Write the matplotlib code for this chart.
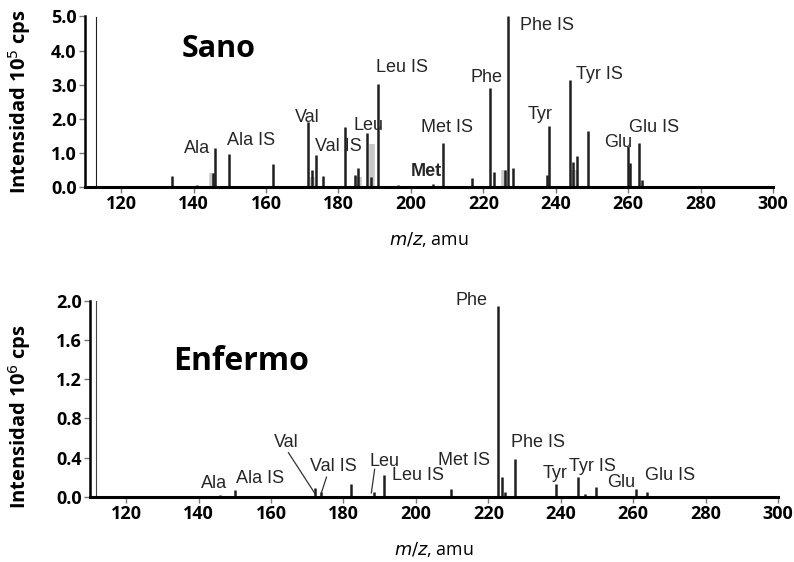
import matplotlib
matplotlib.use("Agg")
import matplotlib.pyplot as plt

# ---- Data: healthy ("Sano"), intensities in 1e5 cps ----
sano_mz = [134.1, 141, 145.4, 146.0, 149.8, 162.0, 171.6, 172.6, 173.8, 175.8, 181.8, 184.6,
           185.4, 187.9, 189.0, 191.0, 196.5, 206.1, 208.9, 216.9, 221.9, 223.0, 226.0,
           226.8, 228.2, 237.6, 238.2, 244.0, 244.8, 245.9, 248.9, 260.0, 260.6, 263.0, 263.8]
sano_int = [0.32, 0.05, 0.4, 1.15, 0.98, 0.68, 1.9, 0.5, 0.95, 0.32, 1.75, 0.35,
            0.55, 1.6, 0.3, 3.02, 0.05, 0.1, 1.3, 0.28, 2.9, 0.45, 0.5,
            5.0, 0.55, 0.35, 1.8, 3.15, 0.75, 0.9, 1.65, 1.2, 0.7, 1.3, 0.2]
sano_shade_mz = [145.2, 172.8, 185.8, 189.3, 225.8, 245.0]
sano_shade_int = [0.4, 0.3, 0.3, 1.25, 0.5, 0.5]

sano_labels = ["Ala", "Ala IS", "Val", "Val IS", "Leu", "Leu IS", "Met", "Met IS",
               "Phe", "Phe IS", "Tyr", "Tyr IS", "Glu", "Glu IS"]
sano_lab_x = [141.0, 155.9, 171.4, 179.9, 188.2, 197.6, 204.2, 210.0,
              220.8, 237.6, 235.7, 252.2, 257.2, 267.2]
sano_lab_y = [1.14, 1.37, 2.05, 1.20, 1.81, 3.51, 0.47, 1.75,
              3.22, 4.74, 2.13, 3.30, 1.32, 1.75]

# ---- Data: diseased ("Enfermo"), intensities in 1e6 cps ----
enf_mz = [146.0, 150.1, 172.0, 173.9, 182.2, 188.3, 191.3, 209.6, 222.6, 223.7, 224.5, 227.5,
          238.6, 244.7, 246.6, 249.7, 260.7, 263.8]
enf_int = [0.02, 0.07, 0.09, 0.05, 0.13, 0.05, 0.22, 0.08, 1.95, 0.2, 0.05, 0.39,
           0.13, 0.2, 0.03, 0.1, 0.08, 0.05]

enf_labels = ["Ala", "Ala IS", "Val", "Val IS", "Leu", "Leu IS", "Met IS",
              "Phe", "Phe IS", "Tyr", "Tyr IS", "Glu", "Glu IS"]
enf_lab_x = [144.3, 157.0, 164.2, 177.2, 191.3, 200.5, 213.4,
             215.4, 233.6, 238.3, 248.8, 256.6, 270.1]
enf_lab_y = [0.14, 0.19, 0.55, 0.31, 0.36, 0.22, 0.37,
             2.00, 0.55, 0.24, 0.31, 0.15, 0.22]

# annotation leader lines (label point -> peak point) for diseased panel
enf_lead_from = [(164.8, 0.45), (175.3, 0.20), (188.6, 0.28)]
enf_lead_to = [(172.0, 0.04), (173.9, 0.04), (187.7, 0.04)]

xticks = [120, 140, 160, 180, 200, 220, 240, 260, 280, 300]
sano_yticks = [0.0, 1.0, 2.0, 3.0, 4.0, 5.0]
enf_yticks = [0.0, 0.4, 0.8, 1.2, 1.6, 2.0]

tick_font = dict(family="Open Sans", weight="bold", size=13)
lab_font = dict(family="Liberation Sans", size=13, color="#262626")

fig = plt.figure(figsize=(7.94, 5.62), dpi=100)
ax1 = fig.add_axes([85 / 794, 0.667, 688 / 794, 0.305])
ax2 = fig.add_axes([90 / 794, 0.116, 688 / 794, 0.349])

def style(ax, yticks, ymax):
    ax.set_xlim(110, 300)
    ax.set_ylim(0, ymax)
    for s in ["top", "right"]:
        ax.spines[s].set_visible(False)
    ax.spines["bottom"].set_linewidth(2.2)
    ax.spines["left"].set_linewidth(1.8)
    ax.set_xticks(xticks)
    ax.set_yticks(yticks)
    ax.set_xticklabels([str(t) for t in xticks], fontdict=tick_font)
    ax.set_yticklabels([f"{t:.1f}" for t in yticks], fontdict=tick_font)
    ax.tick_params(axis="both", direction="out", length=4, width=1, color="#777777", pad=2)
    ax.set_xlabel("$m/z$, amu", family="Open Sans", size=12.8, labelpad=12)

# top panel
style(ax1, sano_yticks, 5.02)
ax1.vlines(sano_shade_mz, 0, sano_shade_int, colors="#c8c8c8", lw=4, zorder=1)
ax1.vlines(sano_mz, 0, sano_int, colors="#1f1f1f", lw=1.8, zorder=2)
ax1.axvline(113.1, ymin=0, ymax=0.995, color="#222222", lw=0.8)
ax1.set_ylabel("Intensidad 10$^5$ cps", family="Open Sans", weight="bold", size=14.5)
ax1.yaxis.set_label_coords(-52 / 688, 0.50)
for t, x, y in zip(sano_labels, sano_lab_x, sano_lab_y):
    kw = dict(lab_font)
    if t == "Met":
        kw["weight"] = "bold"
    ax1.text(x, y, t, ha="center", va="center", **kw)
ax1.text(146.9, 4.06, "Sano", ha="center", va="center",
         family="Open Sans", weight="bold", size=22)

# bottom panel
style(ax2, enf_yticks, 2.0)
ax2.vlines(enf_mz, 0, enf_int, colors="#1f1f1f", lw=1.8, zorder=2)
ax2.axvline(111.7, ymin=0, ymax=1.0, color="#444444", lw=0.8)
ax2.set_ylabel("Intensidad 10$^6$ cps", family="Open Sans", weight="bold", size=14.5)
ax2.yaxis.set_label_coords(-57 / 688, 0.41)
for (x0, y0), (x1, y1) in zip(enf_lead_from, enf_lead_to):
    ax2.plot([x0, x1], [y0, y1], color="#333333", lw=0.9)
for t, x, y in zip(enf_labels, enf_lab_x, enf_lab_y):
    ax2.text(x, y, t, ha="center", va="center", **lab_font)
ax2.text(151.7, 1.38, "Enfermo", ha="center", va="center",
         family="Open Sans", weight="bold", size=23)

fig.savefig("out.png", dpi=100)
